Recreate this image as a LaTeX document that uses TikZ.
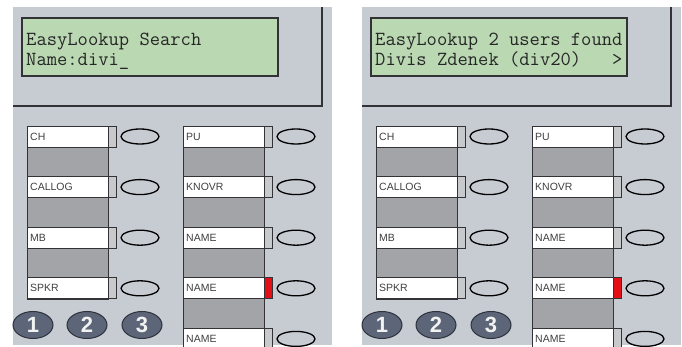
\documentclass[tikz,border=0pt]{standalone}
\usepackage{fontspec}
\setmainfont{Liberation Sans}
\usetikzlibrary{shapes.geometric}

\definecolor{panelgray}{RGB}{199,203,210}
\definecolor{lcdgreen}{RGB}{186,216,178}
\definecolor{blockgray}{RGB}{163,164,167}
\definecolor{tabgray}{RGB}{200,201,203}
\definecolor{alertred}{RGB}{226,16,20}
\definecolor{keyblue}{RGB}{92,102,120}
\definecolor{keyedge}{RGB}{45,50,60}
\definecolor{rim}{RGB}{50,50,55}

\tikzset{
  rimline/.style={draw=rim, line width=1.4pt},
  lcdbox/.style={draw=rim, line width=1.2pt},
  lcdtext/.style={anchor=base west, inner sep=0pt, text=black!85,
    font=\ttfamily\fontsize{20}{20}\selectfont},
  colblock/.style={draw=rim, fill=blockgray, line width=0.8pt},
  keylabel/.style={draw=rim, fill=white, line width=0.9pt},
  keytab/.style={draw=rim, line width=0.9pt},
  keytext/.style={anchor=west, inner sep=0pt, text=black!75,
    font=\fontsize{10.5}{12}\selectfont},
  softkey/.style={draw=black, fill=panelgray, line width=1.3pt},
  numkey/.style={ellipse, draw=keyedge, fill=keyblue, line width=1pt,
    minimum width=40pt, minimum height=27pt, inner sep=0pt, text=white!95!black,
    font=\bfseries\fontsize{22}{22}\selectfont}
}

% one column of labelled soft keys
\newcommand{\keycolumn}[4]{% left x, name prefix, bottom y, labels
  \draw[colblock] (#1,126) rectangle (#1+81,#3);
  \foreach \lab/\tabfill [count=\i from 0] in {#4} {
    \pgfmathsetmacro{\ytop}{126+50.6*\i}
    \draw[keylabel] (#1,\ytop) rectangle ++(81,21);
    \draw[keytab, fill=\tabfill] (#1+81,\ytop) rectangle ++(8,21);
    \node[keytext] (#2-\i) at (#1+3,\ytop+10.5) {\lab};
    \draw[softkey] (#1+113,\ytop+10.5) ellipse [x radius=19, y radius=7.5];
  }}

% one phone panel
\newcommand{\phonepanel}[4]{% shift, name prefix, display line 1, display line 2
  \begin{scope}[xshift=#1]
    \fill[panelgray] (13,7) rectangle (332,345);
    \draw[rimline] (13,106) -- (322,106) -- (322,7);
    \fill[lcdgreen] (22,18) rectangle (278,76);
    \begin{scope}
      \clip (22,18) rectangle (278,76);
      \node[lcdtext] (#2-lcd1) at (26,46) {#3};
      \node[lcdtext] (#2-lcd2) at (26,66) {#4};
    \end{scope}
    \draw[lcdbox] (22,18) rectangle (278,76);
    \keycolumn{27}{#2-left}{299}{CH/tabgray, CALLOG/tabgray, MB/tabgray, SPKR/tabgray}
    \keycolumn{183}{#2-right}{352}{PU/tabgray, KNOVR/tabgray, NAME/tabgray,
      NAME/alertred, NAME/tabgray}
    \node[numkey] (#2-k1) at (33,325) {1};
    \node[numkey] (#2-k2) at (87,325) {2};
    \node[numkey] (#2-k3) at (142,325) {3};
  \end{scope}}

\begin{document}
\begin{tikzpicture}[x=1pt, y=-1pt]
  \clip (0,0) rectangle (682,347);
  \fill[white] (0,0) rectangle (682,347);
  \phonepanel{0}{search}{EasyLookup Search}{Name:divi\_}
  \phonepanel{349}{found}{EasyLookup 2 users found}{Divis Zdenek (div20)\ \ \ >}
\end{tikzpicture}
\end{document}
